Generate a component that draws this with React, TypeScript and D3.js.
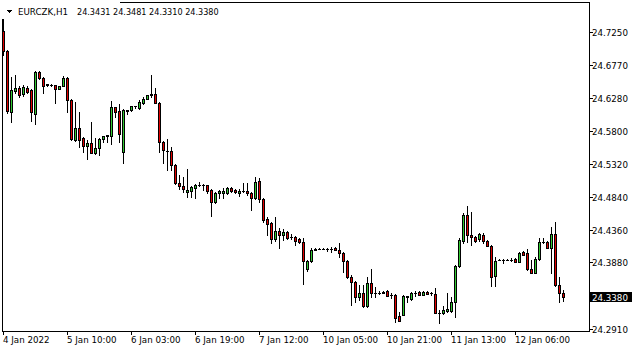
import React from "react";
import * as d3 from "d3";

const symbolTitle = "EURCZK,H1";
const lastOHLC = ["24.3431", "24.3481", "24.3310", "24.3380"];

const openP = [
  24.7269, 24.6977, 24.6085, 24.6392, 24.6436, 24.6348, 24.6436, 24.6407, 24.6056, 24.6670,
  24.6582, 24.6487, 24.6480, 24.6480, 24.6421, 24.6465, 24.6582, 24.6261, 24.5676, 24.5851,
  24.5705, 24.5588, 24.5632, 24.5486, 24.5559, 24.5691, 24.5734, 24.5734, 24.6158, 24.6100,
  24.5501, 24.6100, 24.6114, 24.6173, 24.6144, 24.6217, 24.6275, 24.6326, 24.6348, 24.6217,
  24.5647, 24.5515, 24.5515, 24.5311, 24.5048, 24.5004, 24.4916, 24.4931, 24.4975, 24.5018,
  24.5015, 24.5018, 24.4945, 24.4770, 24.4901, 24.4901, 24.4901, 24.4975, 24.4945, 24.4901,
  24.4931, 24.4931, 24.4901, 24.4828, 24.5077, 24.4814, 24.4522, 24.4463, 24.4229, 24.4346,
  24.4288, 24.4332, 24.4258, 24.4258, 24.4229, 24.4185, 24.3791, 24.3908, 24.4069, 24.4083,
  24.4080, 24.4083, 24.4080, 24.4098, 24.4069, 24.4025, 24.3908, 24.3674, 24.3601, 24.3382,
  24.3440, 24.3250, 24.3586, 24.3440, 24.3440, 24.3440, 24.3469, 24.3411, 24.3411, 24.3104,
  24.3119, 24.3382, 24.3352, 24.3440, 24.3455, 24.3411, 24.3455, 24.3440, 24.3425, 24.3148,
  24.3148, 24.3177, 24.3177, 24.3309, 24.3835, 24.4200, 24.4580, 24.4288, 24.4258, 24.4229,
  24.4288, 24.4200, 24.4127, 24.3689, 24.3922, 24.3922, 24.3922, 24.3922, 24.3937, 24.3893,
  24.4039, 24.4025, 24.3791, 24.3732, 24.3937, 24.4185, 24.4185, 24.4098, 24.4302, 24.3557,
  24.3431,
];

const highP = [
  24.7444, 24.6985, 24.6597, 24.6626, 24.6465, 24.6480, 24.6465, 24.6421, 24.6675, 24.6675,
  24.6585, 24.6494, 24.6494, 24.6480, 24.6465, 24.6611, 24.6597, 24.6265, 24.6231, 24.6085,
  24.5720, 24.5676, 24.5939, 24.5705, 24.5705, 24.5734, 24.5749, 24.6246, 24.6160, 24.6202,
  24.6118, 24.6114, 24.6173, 24.6175, 24.6261, 24.6304, 24.6334, 24.6626, 24.6436, 24.6231,
  24.5650, 24.5691, 24.5574, 24.5315, 24.5165, 24.5135, 24.5252, 24.5004, 24.5033, 24.5062,
  24.5026, 24.5020, 24.4948, 24.4916, 24.4945, 24.4975, 24.4989, 24.4978, 24.4960, 24.4960,
  24.5048, 24.5048, 24.4916, 24.5135, 24.5121, 24.4817, 24.4551, 24.4465, 24.4551, 24.4390,
  24.4375, 24.4335, 24.4302, 24.4260, 24.4232, 24.4244, 24.3922, 24.4098, 24.4090, 24.4090,
  24.4090, 24.4098, 24.4112, 24.4100, 24.4171, 24.4039, 24.3922, 24.3703, 24.3605, 24.3557,
  24.3557, 24.3674, 24.3791, 24.3528, 24.3469, 24.3462, 24.3472, 24.3440, 24.3415, 24.3162,
  24.3400, 24.3396, 24.3455, 24.3469, 24.3458, 24.3458, 24.3458, 24.3447, 24.3513, 24.3192,
  24.3250, 24.3440, 24.3382, 24.3849, 24.4244, 24.4609, 24.4712, 24.4624, 24.4260, 24.4317,
  24.4317, 24.4203, 24.4130, 24.3966, 24.3930, 24.3930, 24.3930, 24.3952, 24.3940, 24.4028,
  24.4042, 24.4083, 24.3922, 24.3966, 24.4244, 24.4244, 24.4188, 24.4405, 24.4478, 24.3674,
  24.3481,
];

const lowP = [
  24.6918, 24.6071, 24.5939, 24.6363, 24.6304, 24.6319, 24.6363, 24.5954, 24.5910, 24.6567,
  24.6363, 24.6465, 24.6465, 24.6217, 24.6415, 24.6460, 24.6085, 24.5676, 24.5661, 24.5574,
  24.5501, 24.5398, 24.5480, 24.5471, 24.5457, 24.5647, 24.5647, 24.5618, 24.6012, 24.5647,
  24.5340, 24.6056, 24.6100, 24.6144, 24.6129, 24.6202, 24.6270, 24.6304, 24.6212, 24.5501,
  24.5340, 24.5238, 24.5238, 24.5033, 24.4960, 24.4916, 24.4843, 24.4843, 24.4828, 24.5004,
  24.4945, 24.4901, 24.4565, 24.4755, 24.4828, 24.4828, 24.4887, 24.4916, 24.4901, 24.4858,
  24.4916, 24.4872, 24.4653, 24.4814, 24.4770, 24.4478, 24.4288, 24.4171, 24.4200, 24.4098,
  24.4215, 24.4229, 24.4229, 24.4142, 24.4171, 24.3572, 24.3762, 24.3893, 24.4061, 24.4076,
  24.4076, 24.4054, 24.4039, 24.4065, 24.3966, 24.3747, 24.3659, 24.3265, 24.3309, 24.3338,
  24.3236, 24.3236, 24.3382, 24.3382, 24.3425, 24.3433, 24.3392, 24.3367, 24.3016, 24.3028,
  24.3115, 24.3309, 24.3338, 24.3396, 24.3408, 24.3408, 24.3422, 24.3404, 24.3145, 24.3002,
  24.3133, 24.3162, 24.3162, 24.3089, 24.3820, 24.4171, 24.4185, 24.4142, 24.4185, 24.4200,
  24.4171, 24.4124, 24.3542, 24.3542, 24.3915, 24.3879, 24.3915, 24.3908, 24.3890, 24.3890,
  24.3992, 24.3776, 24.3728, 24.3728, 24.3922, 24.4171, 24.4095, 24.3732, 24.3542, 24.3309,
  24.3310,
];

const closeP = [
  24.6977, 24.6100, 24.6407, 24.6436, 24.6334, 24.6451, 24.6378, 24.6085, 24.6670, 24.6582,
  24.6465, 24.6472, 24.6478, 24.6421, 24.6465, 24.6582, 24.6261, 24.5691, 24.5851, 24.5676,
  24.5588, 24.5632, 24.5486, 24.5559, 24.5691, 24.5734, 24.5742, 24.6158, 24.6085, 24.5764,
  24.6114, 24.6107, 24.6173, 24.6170, 24.6231, 24.6275, 24.6334, 24.6341, 24.6217, 24.5647,
  24.5530, 24.5508, 24.5311, 24.5048, 24.5004, 24.4960, 24.4945, 24.4989, 24.5018, 24.5015,
  24.5018, 24.4931, 24.4770, 24.4901, 24.4931, 24.4931, 24.4975, 24.4931, 24.4916, 24.4931,
  24.4929, 24.4901, 24.4828, 24.5062, 24.4814, 24.4507, 24.4448, 24.4229, 24.4346, 24.4288,
  24.4332, 24.4244, 24.4251, 24.4200, 24.4185, 24.3908, 24.3908, 24.4069, 24.4083, 24.4080,
  24.4083, 24.4080, 24.4083, 24.4069, 24.4025, 24.3908, 24.3674, 24.3601, 24.3382, 24.3440,
  24.3250, 24.3586, 24.3440, 24.3433, 24.3438, 24.3455, 24.3396, 24.3408, 24.3075, 24.3031,
  24.3396, 24.3389, 24.3440, 24.3438, 24.3411, 24.3455, 24.3425, 24.3438, 24.3148, 24.3145,
  24.3192, 24.3206, 24.3309, 24.3835, 24.4215, 24.4580, 24.4288, 24.4258, 24.4200, 24.4302,
  24.4200, 24.4127, 24.3674, 24.3908, 24.3920, 24.3920, 24.3920, 24.3920, 24.3893, 24.4025,
  24.3995, 24.3791, 24.3732, 24.3937, 24.4185, 24.4183, 24.4098, 24.4302, 24.3557, 24.3440,
  24.3380,
];

const priceTicks = [24.725, 24.677, 24.628, 24.58, 24.532, 24.484, 24.436, 24.388, 24.291];
const currentPrice = 24.338;

const timeTickIndex = [0, 16, 32, 48, 64, 80, 96, 112, 128];
const timeTickLabels = [
  "4 Jan 2022",
  "5 Jan 10:00",
  "6 Jan 03:00",
  "6 Jan 19:00",
  "7 Jan 12:00",
  "10 Jan 05:00",
  "10 Jan 21:00",
  "11 Jan 13:00",
  "12 Jan 06:00",
];

const W = 635;
const H = 352;
const FONT = "'DejaVu Sans', Tahoma, sans-serif";
const UP = "#32c832";
const DOWN = "#e00000";

export default function App() {
  const n = closeP.length;
  const plotLeft = 2;
  const plotRight = 589;
  const plotTop = 2;
  const plotBottom = 331;

  const x = d3.scaleLinear().domain([0, n - 1]).range([3, 3 + 4 * (n - 1)]);
  const y = d3.scaleLinear().domain([24.291, 24.725]).range([328.8, 32]);
  const py = (v: number) => Math.round(y(v));

  const candles = d3.range(n).map((i) => {
    const col = Math.round(x(i));
    const o = openP[i];
    const c = closeP[i];
    const top = py(Math.max(o, c));
    const bot = py(Math.min(o, c));
    const hi = py(highP[i]);
    const lo = py(lowP[i]);
    const color = c >= o ? UP : DOWN;
    return (
      <g key={i}>
        <line x1={col + 0.5} x2={col + 0.5} y1={hi} y2={lo + 1} stroke="#000" strokeWidth={1} />
        {bot - top < 1 ? (
          <line x1={col - 1} x2={col + 2} y1={top + 0.5} y2={top + 0.5} stroke="#000" strokeWidth={1} />
        ) : (
          <rect x={col - 0.5} y={top + 0.5} width={2} height={bot - top} fill={color} stroke="#000" strokeWidth={1} />
        )}
      </g>
    );
  });

  const curY = py(currentPrice);

  return (
    <svg
      width={W}
      height={H}
      style={{ position: "absolute", left: 0, top: 0, background: "#fff" }}
      shapeRendering="crispEdges"
    >
      <rect x={0} y={0} width={W} height={H} fill="#fff" />
      {/* frame */}
      <line x1={120} x2={plotRight + 0.5} y1={plotTop + 0.5} y2={plotTop + 0.5} stroke="#000" />
      <line x1={plotRight + 0.5} x2={plotRight + 0.5} y1={plotTop} y2={plotBottom + 1} stroke="#000" />
      <line x1={plotLeft} x2={plotRight + 1} y1={plotBottom + 0.5} y2={plotBottom + 0.5} stroke="#000" />
      <line x1={plotLeft + 0.5} x2={plotLeft + 0.5} y1={19} y2={plotBottom + 1} stroke="#000" />

      {candles}

      {/* price axis */}
      {priceTicks.map((t) => (
        <g key={t}>
          <line x1={plotRight} x2={plotRight + 4} y1={py(t) + 0.5} y2={py(t) + 0.5} stroke="#000" />
          <text x={592} y={py(t) + 3.5} fontFamily={FONT} fontSize={8.7} fill="#000">
            {t.toFixed(4)}
          </text>
        </g>
      ))}
      <rect x={590} y={curY - 5} width={42} height={10} fill="#000" />
      <text x={592} y={curY + 3.5} fontFamily={FONT} fontSize={8.7} fill="#fff">
        {currentPrice.toFixed(4)}
      </text>

      {/* time axis */}
      {timeTickIndex.map((idx, k) => {
        const cx = Math.round(x(idx));
        return (
          <g key={idx}>
            <line x1={cx + 0.5} x2={cx + 0.5} y1={plotBottom} y2={plotBottom + 4} stroke="#000" />
            <text x={cx} y={343} fontFamily={FONT} fontSize={8.7} fill="#000">
              {timeTickLabels[k]}
            </text>
          </g>
        );
      })}

      {/* title */}
      <path d="M6,10 L12,10 L9,13 Z" fill="#000" />
      <text x={18} y={15} fontFamily={FONT} fontSize={8.7} fill="#000">
        {symbolTitle}
      </text>
      <text x={77} y={15} fontFamily={FONT} fontSize={8.1} fill="#000" style={{ whiteSpace: "pre" }}>
        {lastOHLC.join(" ")}
      </text>
    </svg>
  );
}
